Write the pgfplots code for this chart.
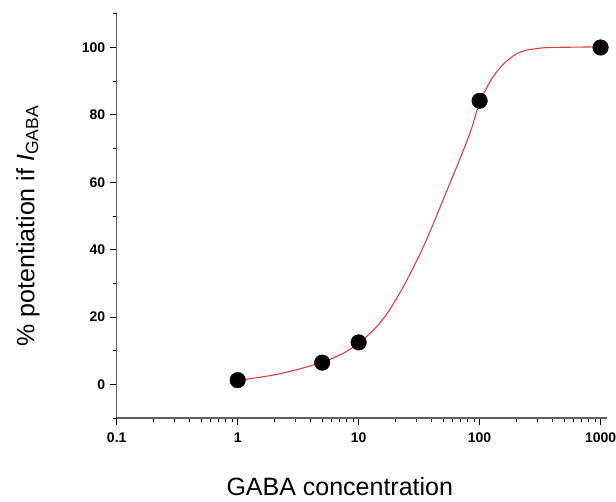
\documentclass[border=0pt]{standalone}
\usepackage{fontspec}
\setmainfont{Liberation Sans}
\usepackage{pgfplots}
\pgfplotsset{compat=1.18}

\definecolor{fitred}{RGB}{228,60,60}
\definecolor{axgray}{RGB}{95,95,95}

\begin{document}
\begin{tikzpicture}
\begin{axis}[
    at={(116.7pt,-418.2pt)}, anchor=south west,
    scale only axis,
    width=490.3pt, height=404.4pt,
    xmode=log,
    xmin=0.1, xmax=1130,
    ymin=-10, ymax=110,
    axis x line*=bottom, axis y line*=left,
    axis line style={axgray, line width=1.5pt},
    tick align=outside,
    major tick length=7pt, minor tick length=4pt,
    tick style={black, line width=0.9pt},
    xtick={0.1,1,10,100,1000},
    xticklabels={0.1,1,10,100,1000},
    minor xtick={0.2,0.3,0.4,0.5,0.6,0.7,0.8,0.9,2,3,4,5,6,7,8,9,20,30,40,50,60,70,80,90,200,300,400,500,600,700,800,900},
    ytick={0,20,40,60,80,100},
    minor ytick={-10,10,30,50,70,90,110},
    /pgf/number format/assume math mode=true,
    ticklabel style={font=\fontsize{14}{15}\selectfont\bfseries},
    xticklabel style={yshift=-4pt},
    yticklabel style={xshift=-1pt},
    xlabel={GABA concentration},
    ylabel={\% potentiation if \textit{I}\textsubscript{GABA}},
    label style={font=\fontsize{25}{30}\selectfont},
    xlabel style={at={(axis description cs:0.455,-0.168)}, anchor=center},
    ylabel style={at={(axis description cs:-0.181,0.475)}, anchor=center},
    clip=false,
]
\addplot[fitred, line width=1.1pt, smooth, tension=0.5] coordinates {
    (1,1.2) (1.9,2.7) (3,4.3) (5,6.6) (7.5,9.3) (10,12.3) (13.4,16.3)
    (17.4,21.3) (23,28.5) (30,36.5) (37,43.5) (51,55.6) (70,67.6) (85,75.5)
    (100,83.6) (125,90.5) (150,94.3) (172,96.3) (200,98) (237,99.1)
    (300,99.7) (370,100) (600,100.1) (1000,100.2)
};
\addplot[only marks, mark=*, mark size=7.8pt, black] coordinates {
    (1,1.3) (5,6.5) (10,12.5) (100,84.2) (1000,100)
};
\end{axis}
\pgfresetboundingbox
\path (0,0) rectangle (616pt,-501pt);
\end{tikzpicture}
\end{document}
